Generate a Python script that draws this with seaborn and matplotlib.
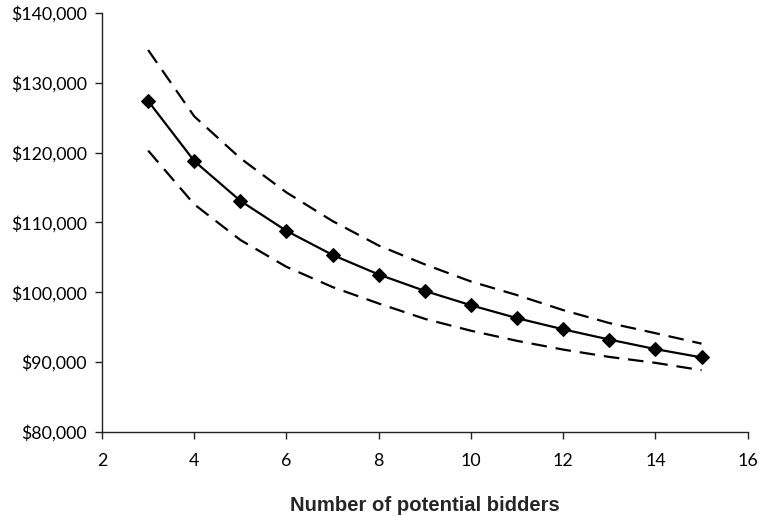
import pandas as pd
import matplotlib.pyplot as plt
import seaborn as sns
from matplotlib.ticker import FuncFormatter

bidders = [3, 4, 5, 6, 7, 8, 9, 10, 11, 12, 13, 14, 15]
precio_medio = [127400, 118800, 113100, 108800, 105350, 102550, 100200,
                98150, 96300, 94700, 93240, 91870, 90680]
precio_alto = [134700, 125200, 119200, 114300, 110200, 106700, 104000,
               101550, 99600, 97450, 95600, 94150, 92650]
precio_bajo = [120300, 112600, 107500, 103650, 100750, 98400, 96200,
               94500, 93050, 91800, 90750, 89900, 88850]

df = pd.DataFrame({
    "bidders": bidders,
    "medio": precio_medio,
    "alto": precio_alto,
    "bajo": precio_bajo,
})

sns.set_style("ticks")
plt.rcParams['font.family'] = ['Lato', 'DejaVu Sans']

fig = plt.figure(figsize=(7.59, 5.16), dpi=100)
ax = fig.add_axes([0.1344, 0.1628, 0.8507, 0.812])

for col in ["alto", "bajo"]:
    sns.lineplot(data=df, x="bidders", y=col, ax=ax, color="black",
                 linewidth=1.6, dashes=False)
for line in ax.lines:
    line.set_dashes((7, 4))

sns.lineplot(data=df, x="bidders", y="medio", ax=ax, color="black",
             linewidth=1.6, marker="D", markersize=7,
             markeredgecolor="black", markerfacecolor="black")

ax.set_xlim(2, 16)
ax.set_ylim(80000, 140000)
ax.set_xticks(range(2, 17, 2))
ax.set_yticks(range(80000, 140001, 10000))
ax.yaxis.set_major_formatter(FuncFormatter(lambda v, p: f"${v:,.0f}"))

sns.despine(ax=ax)
for s in ["left", "bottom"]:
    ax.spines[s].set_linewidth(1.0)
    ax.spines[s].set_color("#222222")
ax.tick_params(axis="both", direction="out", length=5, width=1.0,
               color="#222222", labelsize=12.8, labelcolor="black")
ax.tick_params(axis="y", pad=6)
ax.tick_params(axis="x", pad=10)

ax.set_ylabel("")
ax.set_xlabel("Number of potential bidders", fontsize=14.6, fontweight="bold",
              family=["Liberation Sans", "DejaVu Sans"], labelpad=19.5)

fig.savefig("out.png", dpi=100)
plt.close(fig)
